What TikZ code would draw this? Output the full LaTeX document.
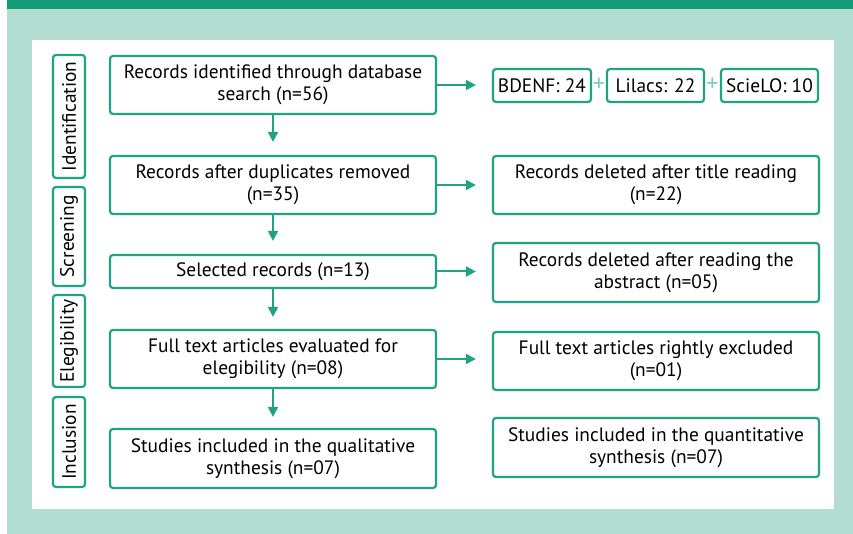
\documentclass[tikz,border=0pt]{standalone}
\usepackage{fontspec}
\setmainfont{PT Sans}
\usetikzlibrary{arrows.meta}

\definecolor{flowgreen}{HTML}{1FA382}
\definecolor{bardark}{HTML}{149A76}
\definecolor{bgmint}{HTML}{B3DDD0}
\definecolor{plusgreen}{HTML}{7FCBB3}

\tikzset{
  flowbox/.style={draw=flowgreen, line width=2.2pt, rounded corners=3pt, fill=white,
    align=center, inner sep=0pt, minimum width=326pt, minimum height=58pt,
    font=\fontsize{19.4}{22}\selectfont},
  dbbox/.style={flowbox, minimum width=97pt, minimum height=33pt},
  stagebox/.style={flowbox, rotate=90, minimum height=32pt},
  flowarrow/.style={draw=flowgreen, line width=2pt, -{Triangle[length=10pt,width=10pt]}},
}

\begin{document}
\begin{tikzpicture}[x=1pt,y=-1pt]
% A. Page background, header strip and white panel
\useasboundingbox (0,0) rectangle (853,534);
\fill[bgmint] (7,9.5) rectangle (853,534);
\fill[bardark] (7,0) rectangle (853,9.5);
\fill[white] (32,40) rectangle (834,509);

% B. Stage labels on the left
\node[stagebox, minimum width=123pt] (ident) at (69,116.5) {Identification};
\node[stagebox, minimum width=99pt] (screen) at (69,236.5) {Screening};
\node[stagebox, minimum width=92pt] (elig) at (69,341) {Elegibility};
\node[stagebox, minimum width=90pt] (incl) at (69,442) {Inclusion};

% C. Main column
\node[flowbox] (found) at (273,85) {Records identified through database\\search (n=56)};
\node[flowbox] (nodup) at (273,185) {Records after duplicates removed\\(n=35)};
\node[flowbox, minimum height=33pt] (select) at (273,271.5) {Selected records (n=13)};
\node[flowbox] (fulltext) at (273,359) {Full text articles evaluated for\\elegibility (n=08)};
\node[flowbox, minimum height=59pt] (qualit) at (273,458.5) {Studies included in the qualitative\\synthesis (n=07)};

% D. Databases searched
\node[dbbox, minimum width=98pt] (bdenf) at (542,85.5) {BDENF: 24};
\node[dbbox] (lilacs) at (655.5,85.5) {Lilacs: 22};
\node[dbbox] (scielo) at (769.5,85.5) {ScieLO: 10};
\node[text=plusgreen, font=\fontsize{24}{24}\selectfont] (plusa) at (599,84.5) {+};
\node[text=plusgreen, font=\fontsize{24}{24}\selectfont] (plusb) at (712.5,84.5) {+};

% E. Right column
\node[flowbox] (bytitle) at (656,185) {Records deleted after title reading\\(n=22)};
\node[flowbox, minimum height=59pt] (byabstract) at (656,272.5) {Records deleted after reading the\\abstract (n=05)};
\node[flowbox] (excluded) at (656,361) {Full text articles rightly excluded\\(n=01)};
\node[flowbox, minimum height=59pt] (quantit) at (656,447.5) {Studies included in the quantitative\\synthesis (n=07)};

% F. Arrows down the main column
\draw[flowarrow, shorten >=13pt] (found) -- (nodup);
\draw[flowarrow, shorten >=13pt] (nodup) -- (select);
\draw[flowarrow, shorten >=12pt] (select) -- (fulltext);
\draw[flowarrow, shorten >=11pt] (fulltext) -- (qualit);

% G. Arrows to the right column
\draw[flowarrow, shorten >=16pt] (found.east) -- (found.east -| bdenf.west);
\draw[flowarrow, shorten >=16pt] (nodup.east) -- (nodup.east -| bytitle.west);
\draw[flowarrow, shorten >=16pt] (select.east) -- (select.east -| byabstract.west);
\draw[flowarrow, shorten >=16pt] (fulltext.east) -- (fulltext.east -| excluded.west);
\end{tikzpicture}
\end{document}
